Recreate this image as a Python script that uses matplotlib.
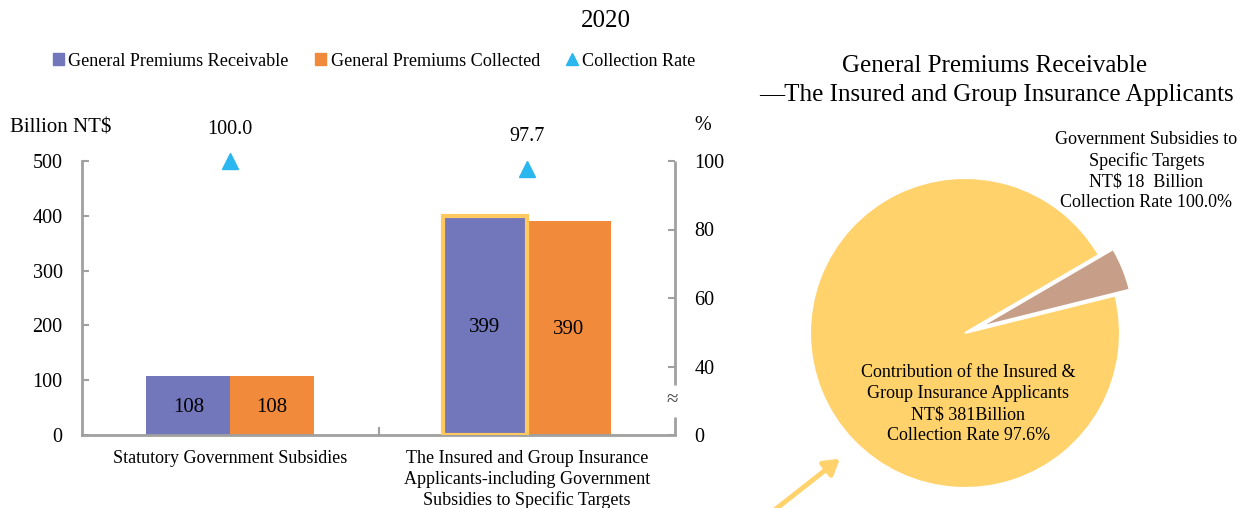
import numpy as np
import matplotlib.pyplot as plt
from matplotlib.patches import Patch
from matplotlib.lines import Line2D
import matplotlib.transforms as mtransforms

plt.rcParams['font.family'] = ['Liberation Serif', 'DejaVu Serif']

# data
categories = ['Statutory Government Subsidies',
              'The Insured and Group Insurance\nApplicants-including Government\nSubsidies to Specific Targets']
receivable = [108, 399]
collected = [108, 390]
rate = [100.0, 97.7]

pie_values = [18, 381]
pie_labels = ['Government Subsidies to\nSpecific Targets\nNT$ 18  Billion\nCollection Rate 100.0%',
              'Contribution of the Insured &\nGroup Insurance Applicants\nNT$ 381Billion\nCollection Rate 97.6%']

c_purple = '#7276BA'
c_orange = '#F28A3C'
c_tri = '#2AB6EF'
c_gold = '#FFC95E'
c_yellow = '#FFD26C'
c_brown = '#C79F88'
c_spine = '#A0A0A0'

W, H = 1250, 508
fig = plt.figure(figsize=(W / 100, H / 100), dpi=100)


def fx(px):
    return px / W


def fy(py):
    return 1 - py / H


# ---- bar chart ----
ax = fig.add_axes([fx(82), fy(435), fx(675 - 82), (435 - 161) / H])
x = np.arange(len(categories))
bw = 0.283
ax.bar(x - bw / 2, receivable, bw, color=c_purple, zorder=2)
ax.bar(x + bw / 2, collected, bw, color=c_orange, zorder=2)
# highlight the second receivable bar
ax.bar(x[1] - bw / 2, receivable[1], bw, color=c_purple,
       edgecolor=c_gold, linewidth=3, zorder=3)

for i in range(len(categories)):
    ax.text(x[i] - bw / 2, receivable[i] / 2 - 3, f'{receivable[i]}', ha='center',
            va='center', fontsize=15, zorder=4)
    ax.text(x[i] + bw / 2, collected[i] / 2 - 3, f'{collected[i]}', ha='center',
            va='center', fontsize=15, zorder=4)

ax.set_xlim(-0.5, 1.5)
ax.set_ylim(0, 500)
ax.set_yticks([0, 100, 200, 300, 400, 500])
ax.tick_params(axis='y', direction='in', length=5, width=1.5, color=c_spine,
               labelsize=14.5, pad=14)
ax.set_xticks(x)
ax.set_xticklabels(categories, fontsize=13, linespacing=1.25)
ax.tick_params(axis='x', length=0, pad=11)
ax.set_xticks([0.5], minor=True)
ax.tick_params(axis='x', which='minor', direction='in', length=6, width=1.5,
               color=c_spine)
for s in ['top', 'right']:
    ax.spines[s].set_visible(False)
for s in ['left', 'bottom']:
    ax.spines[s].set_color(c_spine)
    ax.spines[s].set_linewidth(2)

# collection rate on a broken right axis (0 shown at the 20 position)
ax2 = ax.twinx()
ax2.set_ylim(20, 100)
ax2.set_yticks([20, 40, 60, 80, 100])
ax2.set_yticklabels(['0', '40', '60', '80', '100'])
ax2.tick_params(axis='y', direction='in', length=5, width=1.5, color=c_spine,
                labelsize=14.5, pad=14)
for s in ax2.spines.values():
    s.set_visible(False)
trans = mtransforms.blended_transform_factory(ax2.transAxes, ax2.transData)
ax2.plot([1, 1], [34.6, 100], color=c_spine, lw=2, transform=trans,
         clip_on=False, solid_capstyle='butt')
ax2.plot([1, 1], [20, 25.3], color=c_spine, lw=2, transform=trans,
         clip_on=False, solid_capstyle='butt')
ax2.text(0.996, 30.2, '≈', transform=trans, ha='center', va='center',
         fontsize=15, color='#444444')

ax2.plot(x, rate, linestyle='none', marker='^', markersize=11, color=c_tri,
         zorder=5, clip_on=False)
for i in range(len(categories)):
    ax2.annotate(f'{rate[i]:.1f}', (x[i], rate[i]), xytext=(0, 23),
                 textcoords='offset points', ha='center', va='center',
                 fontsize=14.5)

fig.text(fx(10), fy(128), 'Billion NT$', ha='left', va='center', fontsize=15)
fig.text(fx(703), fy(126), '%', ha='center', va='center', fontsize=14.5)

fig.text(fx(606), fy(21), '2020', ha='center', va='center', fontsize=18)

handles = [Patch(color=c_purple), Patch(color=c_orange),
           Line2D([], [], linestyle='none', marker='^', color=c_tri,
                  markersize=8)]
fig.legend(handles, ['General Premiums Receivable', 'General Premiums Collected',
                     'Collection Rate'],
           loc='center', bbox_to_anchor=(fx(374), fy(61)), ncol=3,
           frameon=False, fontsize=13.1, handlelength=0.6, handleheight=0.6,
           handletextpad=0.25, columnspacing=1.45)

# ---- pie chart ----
r_px = 155
L = 1.25
S = 2 * r_px * L
cx, cy = 965, 333
axp = fig.add_axes([fx(cx - S / 2), fy(cy + S / 2), S / W, S / H])
axp.pie(pie_values, colors=[c_brown, c_yellow], startangle=14,
        counterclock=True, explode=[0.1, 0],
        wedgeprops=dict(edgecolor='white', linewidth=1.5))
axp.set_xlim(-L, L)
axp.set_ylim(-L, L)
axp.set_aspect('equal')
axp.axis('off')

axp.text(1.17, 1.045, pie_labels[0], ha='center', va='center', fontsize=13,
         linespacing=1.3)
axp.text(0.02, -0.46, pie_labels[1], ha='center', va='center', fontsize=13,
         linespacing=1.3)

fig.text(fx(995), fy(66), 'General Premiums Receivable', ha='center',
         va='center', fontsize=18)
fig.text(fx(996), fy(95), '—The Insured and Group Insurance Applicants',
         ha='center', va='center', fontsize=18)

ax.annotate('', xy=(842, H - 457), xytext=(772, -4),
            xycoords='figure pixels', textcoords='figure pixels',
            arrowprops=dict(arrowstyle='-|>,head_length=0.9,head_width=0.55',
                            color=c_yellow, lw=3.5))

fig.savefig('out.png', dpi=100)
